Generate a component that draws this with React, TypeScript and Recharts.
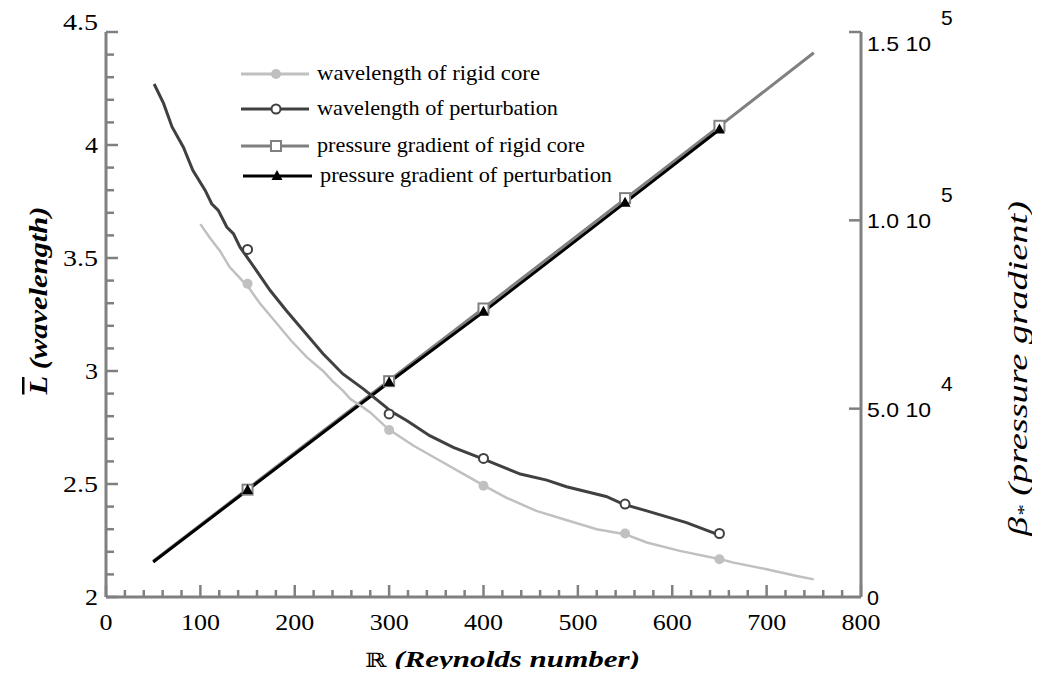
import React from "react";
import { ComposedChart, Line, XAxis, YAxis, Legend } from "recharts";

// Reynolds-number axis ticks
const xMajorTicks = [0, 100, 200, 300, 400, 500, 600, 700, 800];
const xTicks = Array.from({ length: 41 }, (_, i) => i * 20);
// wavelength axis ticks
const leftMajorTicks = [2, 2.5, 3, 3.5, 4, 4.5];
const leftTicks = Array.from({ length: 26 }, (_, i) => Math.round((2 + i * 0.1) * 10) / 10);
// pressure-gradient axis ticks
const rightTicks = [0, 50000, 100000, 150000];
const rightTickText = ["0", "5.0 10", "1.0 10", "1.5 10"];
const rightTickExp = ["", "4", "5", "5"];

// wavelength of rigid core (curve + marked points)
const rigidWaveX = [100, 110, 121, 131, 140, 151, 163, 181, 196, 213, 230, 240, 251, 259, 272, 280, 299, 326, 354, 379, 401, 424, 456, 485, 520, 550, 573, 608, 651, 665, 700, 732, 750];
const rigidWaveY = [3.65, 3.59, 3.53, 3.46, 3.42, 3.37, 3.3, 3.21, 3.135, 3.06, 3.0, 2.955, 2.913, 2.876, 2.84, 2.817, 2.743, 2.669, 2.603, 2.544, 2.492, 2.44, 2.381, 2.344, 2.3, 2.278, 2.241, 2.204, 2.167, 2.152, 2.123, 2.093, 2.078];
const rigidWaveMarkX = [150, 300, 400, 550, 650];
const rigidWaveMarkY = [3.386, 2.739, 2.492, 2.281, 2.167];

// wavelength of perturbation
const pertWaveX = [51, 61, 70, 82, 92, 105, 112, 119, 128, 135, 142, 158, 174, 191, 209, 230, 251, 273, 297, 301, 319, 343, 368, 400, 439, 467, 488, 530, 548, 573, 615, 643, 647];
const pertWaveY = [4.27, 4.184, 4.08, 3.99, 3.888, 3.8, 3.74, 3.711, 3.637, 3.608, 3.548, 3.453, 3.356, 3.268, 3.179, 3.076, 2.987, 2.92, 2.839, 2.824, 2.78, 2.714, 2.662, 2.61, 2.544, 2.517, 2.488, 2.445, 2.411, 2.381, 2.329, 2.285, 2.278];
const pertWaveMarkX = [150, 300, 400, 550, 650];
const pertWaveMarkY = [3.538, 2.81, 2.613, 2.411, 2.281];

// pressure gradient of rigid core
const rigidPresX = [50, 150, 300, 400, 550, 650, 750];
const rigidPresY = [9500, 28700, 57500, 76700, 105700, 125000, 144500];
const rigidPresMarkX = [150, 300, 400, 550, 650];
const rigidPresMarkY = [28500, 57300, 76600, 105900, 125100];

// pressure gradient of perturbation
const pertPresX = [50, 150, 300, 400, 550, 650];
const pertPresY = [9300, 28400, 57000, 75700, 104700, 124100];
const pertPresMarkX = [150, 300, 400, 550, 650];
const pertPresMarkY = [28400, 57000, 75700, 104700, 124100];

const zip = (xs: number[], ys: number[]) => xs.map((x, i) => ({ x, y: ys[i] }));

const SERIF = "Liberation Serif";
const SANS = "Liberation Sans";
const AXIS = "#808080";

const C_RIGID_WAVE = "#c0c0c0";
const C_PERT_WAVE = "#404040";
const C_RIGID_PRES = "#808080";
const C_PERT_PRES = "#000000";

const isMajorX = (v: number) => v % 100 === 0;
const isMajorL = (v: number) => Math.abs(v * 2 - Math.round(v * 2)) < 1e-6;

const BottomTick = (props: any) => {
  const { x, y, payload } = props;
  const major = isMajorX(payload.value);
  const s = String(payload.value);
  return (
    <g>
      <line x1={x} y1={y} x2={x} y2={y - (major ? 12 : 7)} stroke={AXIS} strokeWidth={2.5} />
      {major && (
        <text
          x={x}
          y={y + 33}
          textAnchor="middle"
          fontFamily={SERIF}
          fontSize={24}
          fill="#000"
          textLength={s.length * 13}
          lengthAdjust="spacingAndGlyphs"
        >
          {s}
        </text>
      )}
    </g>
  );
};

const TopTick = (props: any) => {
  const { x, y, payload } = props;
  const major = isMajorX(payload.value);
  return <line x1={x} y1={y} x2={x} y2={y + (major ? 12 : 7)} stroke={AXIS} strokeWidth={2.5} />;
};

const LeftTick = (props: any) => {
  const { x, y, payload } = props;
  const major = isMajorL(payload.value);
  const s = String(payload.value);
  const dy = payload.value === 4.5 ? -10 : 0;
  return (
    <g>
      <line x1={x} y1={y} x2={x + (major ? 12 : 8)} y2={y} stroke={AXIS} strokeWidth={2.5} />
      {major && (
        <text
          x={x - 8}
          y={y + 8 + dy}
          textAnchor="end"
          fontFamily={SERIF}
          fontSize={24}
          fill="#000"
          textLength={s.length === 1 ? 13 : 35}
          lengthAdjust="spacingAndGlyphs"
        >
          {s}
        </text>
      )}
    </g>
  );
};

const RightTick = (props: any) => {
  const { x, y, payload, index } = props;
  const i = rightTicks.indexOf(payload.value);
  const k = i >= 0 ? i : index;
  const dy = payload.value === 150000 ? 11 : 0;
  return (
    <g>
      {payload.value !== 0 && <line x1={x} y1={y} x2={x - 12} y2={y} stroke={AXIS} strokeWidth={2.5} />}
      <text
        x={x + 6}
        y={y + 8 + dy}
        fontFamily={SANS}
        fontSize={21}
        fill="#000"
        textLength={k === 0 ? 12 : 64}
        lengthAdjust="spacingAndGlyphs"
      >
        {rightTickText[k]}
      </text>
      {rightTickExp[k] && (
        <text x={x + 80} y={y - 18 + dy} fontFamily={SANS} fontSize={21} fill="#000">
          {rightTickExp[k]}
        </text>
      )}
    </g>
  );
};

const LeftTitle = (props: any) => {
  const vb = props.viewBox;
  const cx = vb.x - 8;
  const cy = vb.y + vb.height / 2 - 14;
  return (
    <text
      transform={`translate(${cx},${cy}) rotate(-90)`}
      textAnchor="middle"
      dominantBaseline="central"
      fontFamily={SERIF}
      fontSize={25}
      fontWeight="bold"
      fontStyle="italic"
      fill="#000"
      textLength={188}
      lengthAdjust="spacingAndGlyphs"
    >
      <tspan textDecoration="overline">L</tspan>
      <tspan> (wavelength)</tspan>
    </text>
  );
};

const RightTitle = (props: any) => {
  const vb = props.viewBox;
  const cx = vb.x + vb.width + 57;
  const cy = vb.y + vb.height / 2 + 54;
  return (
    <text
      transform={`translate(${cx},${cy}) rotate(-90)`}
      textAnchor="middle"
      dominantBaseline="central"
      fontFamily={SERIF}
      fontSize={27}
      fontStyle="italic"
      fill="#000"
      textLength={335}
      lengthAdjust="spacingAndGlyphs"
    >
      <tspan>β</tspan>
      <tspan fontSize={16} dy={5}>*</tspan>
      <tspan dy={-5}> (pressure gradient)</tspan>
    </text>
  );
};

const BottomTitle = (props: any) => {
  const vb = props.viewBox;
  const cx = vb.x + vb.width / 2 + 19;
  const cy = vb.y + 70;
  return (
    <text
      x={cx}
      y={cy}
      textAnchor="middle"
      fontFamily={SERIF}
      fontSize={24}
      fill="#000"
      textLength={275}
      lengthAdjust="spacingAndGlyphs"
    >
      <tspan fontFamily="DejaVu Serif" fontSize={20}>ℝ</tspan>
      <tspan fontWeight="bold" fontStyle="italic"> (Reynolds number)</tspan>
    </text>
  );
};

const legendRows = [
  { label: "wavelength of rigid core", color: C_RIGID_WAVE, mark: "dot", y: 19, x0: 11, x1: 79, mx: 46, tx: 87, w: 223 },
  { label: "wavelength of perturbation", color: C_PERT_WAVE, mark: "ring", y: 54, x0: 11, x1: 79, mx: 46, tx: 87, w: 241 },
  { label: "pressure gradient of rigid core", color: C_RIGID_PRES, mark: "square", y: 91, x0: 11, x1: 79, mx: 46, tx: 87, w: 268 },
  { label: "pressure gradient of perturbation", color: C_PERT_PRES, mark: "tri", y: 121, x0: 13, x1: 82, mx: 47, tx: 90, w: 292 },
];

const Marker = ({ cx, cy, kind, color }: { cx: number; cy: number; kind: string; color: string }) => {
  if (kind === "dot") return <circle cx={cx} cy={cy} r={5} fill={color} />;
  if (kind === "ring") return <circle cx={cx} cy={cy} r={4.5} fill="#fff" stroke={color} strokeWidth={2} />;
  if (kind === "square")
    return <rect x={cx - 5} y={cy - 5} width={10} height={10} fill="#fff" stroke={color} strokeWidth={2} />;
  return <polygon points={`${cx},${cy - 6} ${cx + 5.5},${cy + 4} ${cx - 5.5},${cy + 4}`} fill={color} />;
};

const LegendBox = () => (
  <svg width={420} height={135}>
    {legendRows.map((r) => (
      <g key={r.label}>
        <line x1={r.x0} y1={r.y} x2={r.x1} y2={r.y} stroke={r.color} strokeWidth={3} />
        <Marker cx={r.mx} cy={r.y} kind={r.mark} color={r.color} />
        <text
          x={r.tx}
          y={r.y + 6}
          fontFamily={SERIF}
          fontSize={21}
          fill="#000"
          textLength={r.w}
          lengthAdjust="spacingAndGlyphs"
        >
          {r.label}
        </text>
      </g>
    ))}
  </svg>
);

const dotOf = (kind: string, color: string) => (p: any) =>
  <Marker key={`${kind}-${p.index}`} cx={p.cx} cy={p.cy} kind={kind} color={color} />;

export default function App() {
  return (
    <div style={{ margin: -8, width: 1040, height: 677, background: "#fff", fontFamily: SERIF }}>
      <ComposedChart width={1040} height={677} margin={{ top: 32, right: 79, bottom: 40, left: 46 }}>
        <XAxis
          xAxisId="b"
          dataKey="x"
          type="number"
          domain={[0, 800]}
          ticks={xTicks}
          interval={0}
          orientation="bottom"
          height={40}
          tickSize={0}
          tickMargin={0}
          tickLine={false}
          axisLine={{ stroke: AXIS, strokeWidth: 3 }}
          tick={BottomTick}
          label={{ content: BottomTitle }}
        />
        <XAxis
          xAxisId="t"
          dataKey="x"
          type="number"
          domain={[0, 800]}
          ticks={xTicks}
          interval={0}
          orientation="top"
          height={0}
          tickSize={0}
          tickMargin={0}
          tickLine={false}
          axisLine={{ stroke: AXIS, strokeWidth: 3 }}
          tick={TopTick}
        />
        <YAxis
          yAxisId="L"
          type="number"
          domain={[2, 4.5]}
          ticks={leftTicks}
          interval={0}
          orientation="left"
          width={60}
          tickSize={0}
          tickMargin={0}
          tickLine={false}
          axisLine={{ stroke: AXIS, strokeWidth: 3 }}
          tick={LeftTick}
          label={{ content: LeftTitle }}
        />
        <YAxis
          yAxisId="P"
          type="number"
          domain={[0, 150000]}
          ticks={rightTicks}
          interval={0}
          orientation="right"
          width={100}
          tickSize={0}
          tickMargin={0}
          tickLine={false}
          axisLine={{ stroke: AXIS, strokeWidth: 3 }}
          tick={RightTick}
          label={{ content: RightTitle }}
        />
        <Legend
          layout="vertical"
          align="center"
          verticalAlign="middle"
          content={LegendBox}
          wrapperStyle={{ left: 230, top: 55, width: 420, height: 135 }}
        />

        <Line xAxisId="b" yAxisId="P" data={zip(rigidPresX, rigidPresY)} dataKey="y" type="linear" stroke={C_RIGID_PRES} strokeWidth={3} dot={false} activeDot={false} isAnimationActive={false} />
        <Line xAxisId="b" yAxisId="P" data={zip(pertPresX, pertPresY)} dataKey="y" type="linear" stroke={C_PERT_PRES} strokeWidth={3} dot={false} activeDot={false} isAnimationActive={false} />
        <Line xAxisId="b" yAxisId="L" data={zip(rigidWaveX, rigidWaveY)} dataKey="y" type="linear" stroke={C_RIGID_WAVE} strokeWidth={2.5} dot={false} activeDot={false} isAnimationActive={false} />
        <Line xAxisId="b" yAxisId="L" data={zip(pertWaveX, pertWaveY)} dataKey="y" type="linear" stroke={C_PERT_WAVE} strokeWidth={3} dot={false} activeDot={false} isAnimationActive={false} />

        <Line xAxisId="b" yAxisId="L" data={zip(rigidWaveMarkX, rigidWaveMarkY)} dataKey="y" stroke="none" dot={dotOf("dot", C_RIGID_WAVE)} activeDot={false} isAnimationActive={false} />
        <Line xAxisId="b" yAxisId="L" data={zip(pertWaveMarkX, pertWaveMarkY)} dataKey="y" stroke="none" dot={dotOf("ring", C_PERT_WAVE)} activeDot={false} isAnimationActive={false} />
        <Line xAxisId="b" yAxisId="P" data={zip(rigidPresMarkX, rigidPresMarkY)} dataKey="y" stroke="none" dot={dotOf("square", C_RIGID_PRES)} activeDot={false} isAnimationActive={false} />
        <Line xAxisId="b" yAxisId="P" data={zip(pertPresMarkX, pertPresMarkY)} dataKey="y" stroke="none" dot={dotOf("tri", C_PERT_PRES)} activeDot={false} isAnimationActive={false} />
      </ComposedChart>
    </div>
  );
}
